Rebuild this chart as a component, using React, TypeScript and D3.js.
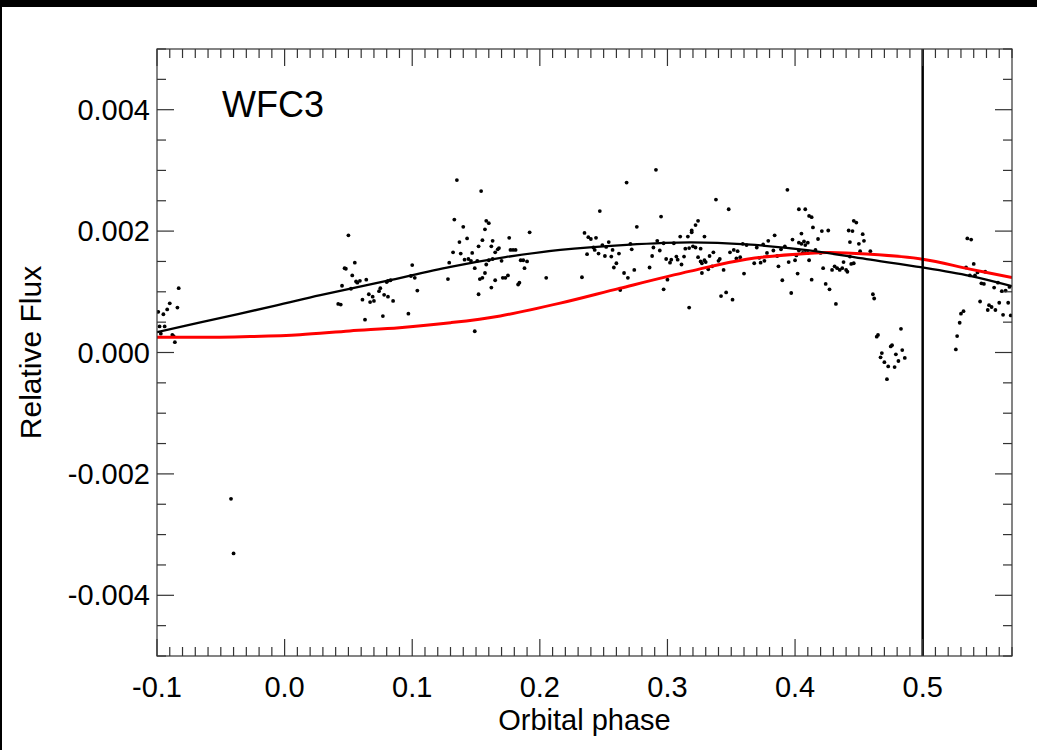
import React from "react";
import * as d3 from "d3";

// ---- Data ----
const xTickValues = [-0.1, 0.0, 0.1, 0.2, 0.3, 0.4, 0.5];
const xTickLabels = ["-0.1", "0.0", "0.1", "0.2", "0.3", "0.4", "0.5"];
const yTickValues = [-0.004, -0.002, 0.0, 0.002, 0.004];
const yTickLabels = ["-0.004", "-0.002", "0.000", "0.002", "0.004"];
const xDomain = [-0.1, 0.57];
const yDomain = [-0.005, 0.005];
const eclipsePhase = 0.5;
const panelLabel = "WFC3";

const obsPhase = [
  -0.099, -0.095, -0.092, -0.09, -0.083, -0.084, -0.098, -0.094, -0.097, -0.088, -0.087, -0.086,
  -0.042, -0.04,
  0.042, 0.044, 0.045, 0.047, 0.048, 0.05, 0.052, 0.053, 0.055, 0.056, 0.057, 0.059, 0.061, 0.063,
  0.064, 0.066, 0.067, 0.069, 0.07, 0.074, 0.075, 0.077, 0.078, 0.08, 0.081, 0.081, 0.083, 0.085,
  0.097, 0.099, 0.1, 0.102, 0.104, 0.128, 0.129,
  0.132, 0.133, 0.135, 0.137, 0.138, 0.14, 0.141, 0.143, 0.144, 0.146, 0.147, 0.149, 0.149, 0.151,
  0.152, 0.152, 0.153, 0.154, 0.155, 0.155, 0.157, 0.157, 0.158, 0.158, 0.16, 0.16, 0.162, 0.162,
  0.163, 0.163, 0.165, 0.165, 0.167, 0.168, 0.17, 0.171, 0.173, 0.175, 0.176, 0.177, 0.179, 0.181,
  0.183, 0.184, 0.185, 0.187, 0.188, 0.19, 0.192, 0.205,
  0.233, 0.235, 0.237, 0.238, 0.24, 0.242, 0.243, 0.244, 0.246, 0.247, 0.249, 0.251, 0.252, 0.254,
  0.256, 0.257, 0.258, 0.26, 0.262, 0.263, 0.266, 0.268, 0.269, 0.271, 0.272, 0.274, 0.276,
  0.286, 0.288, 0.289, 0.291, 0.292, 0.294, 0.295, 0.297, 0.297, 0.299, 0.3, 0.302, 0.303, 0.305,
  0.307, 0.308, 0.31, 0.311, 0.313, 0.314, 0.316, 0.317, 0.317,
  0.319, 0.319, 0.32, 0.322, 0.322, 0.324, 0.324, 0.326, 0.326, 0.327, 0.327, 0.329, 0.329, 0.33,
  0.332, 0.333, 0.335, 0.336, 0.338, 0.34, 0.341, 0.342, 0.344, 0.346, 0.348, 0.349, 0.351, 0.352,
  0.354, 0.355, 0.357, 0.359, 0.36, 0.362, 0.368, 0.37, 0.372, 0.373, 0.375, 0.376, 0.378, 0.379,
  0.383, 0.384, 0.386, 0.387, 0.389, 0.39, 0.392, 0.394, 0.395, 0.397, 0.398, 0.4, 0.401, 0.402,
  0.403, 0.403, 0.403, 0.408, 0.405, 0.405, 0.406, 0.408, 0.41, 0.407, 0.408, 0.41,
  0.411, 0.411, 0.413, 0.413, 0.414, 0.416, 0.418, 0.42, 0.421, 0.422, 0.424, 0.426, 0.427, 0.429,
  0.431, 0.432, 0.433, 0.435, 0.437, 0.438, 0.44, 0.441, 0.442, 0.443, 0.443, 0.444, 0.445, 0.446,
  0.446, 0.448, 0.45, 0.451, 0.453, 0.454, 0.459, 0.461, 0.462,
  0.464, 0.465, 0.467, 0.468, 0.47, 0.472, 0.473, 0.475, 0.476, 0.478, 0.479, 0.481, 0.483, 0.484, 0.486,
  0.526, 0.527, 0.529, 0.53, 0.532, 0.534, 0.535, 0.538, 0.537, 0.54, 0.541, 0.543, 0.545, 0.546,
  0.548, 0.549, 0.551, 0.552, 0.554, 0.556, 0.557, 0.559, 0.56, 0.562, 0.563, 0.565, 0.567, 0.568, 0.569,
];

const obsFlux = [
  0.00067, 0.00063, 0.00071, 0.00081, 0.00106, 0.00074, 0.00043, 0.00043, 0.00031, 0.00029, 0.00027, 0.00017,
  -0.00241, -0.00331,
  0.0008, 0.00079, 0.0011, 0.00139, 0.00138, 0.00193, 0.00105, 0.00127, 0.00148, 0.00117, 0.00115, 0.00118, 0.00087, 0.00054,
  0.0012, 0.00096, 0.00083, 0.00092, 0.00085, 0.00101, 0.00106, 0.0006, 0.00095, 0.00116, 0.00118, 0.00092, 0.00119, 0.00085,
  0.00064, 0.00126, 0.00144, 0.00123, 0.00102, 0.00121, 0.00148,
  0.00165, 0.00219, 0.00284, 0.00182, 0.00163, 0.00207, 0.00153, 0.00188, 0.00154, 0.00151, 0.00164, 0.00139, 0.00035, 0.00151,
  0.00175, 0.00096, 0.00121, 0.00266, 0.00123, 0.00185, 0.00203, 0.00131, 0.00217, 0.00145, 0.00213, 0.00152, 0.00175, 0.00107,
  0.00184, 0.00154, 0.00165, 0.00119, 0.0017, 0.00172, 0.00151, 0.00123, 0.00123, 0.00127, 0.00189, 0.00169, 0.00169, 0.00169,
  0.00112, 0.00115, 0.00152, 0.00152, 0.00139, 0.0015, 0.00198, 0.00123,
  0.00124, 0.00197, 0.00162, 0.0019, 0.00187, 0.00173, 0.00169, 0.00189, 0.00163, 0.00233, 0.00177, 0.00159, 0.00174, 0.00182,
  0.00158, 0.00169, 0.0014, 0.00147, 0.00163, 0.00103, 0.00131, 0.0028, 0.00123, 0.00179, 0.0017, 0.00136, 0.00207,
  0.0014, 0.00159, 0.00173, 0.00301, 0.00184, 0.00168, 0.00224, 0.00104, 0.0018, 0.00154, 0.0012, 0.00148, 0.00153, 0.0018,
  0.00158, 0.00153, 0.00191, 0.00145, 0.00158, 0.00171, 0.00191, 0.00074, 0.00172,
  0.00201, 0.00198, 0.00175, 0.00173, 0.0021, 0.00157, 0.00217, 0.0015, 0.00171, 0.00147, 0.00131, 0.00191, 0.00152, 0.00149,
  0.00137, 0.00159, 0.00142, 0.00165, 0.00252, 0.00151, 0.00154, 0.00093, 0.00136, 0.00099, 0.00236, 0.00165, 0.00087, 0.00169,
  0.00155, 0.00167, 0.00157, 0.00179, 0.0013, 0.00177, 0.00147, 0.00173, 0.00156, 0.00148, 0.00178, 0.00151, 0.00164, 0.00184,
  0.00168, 0.00193, 0.00159, 0.00142, 0.0017, 0.00119, 0.00175, 0.00268, 0.00149, 0.00098, 0.00186, 0.00152, 0.0016, 0.0013,
  0.00181, 0.00168, 0.00236, 0.00236, 0.00196, 0.00179, 0.00164, 0.00164, 0.00164, 0.00183, 0.00177, 0.00181,
  0.00152, 0.00225, 0.0012, 0.00223, 0.00206, 0.00169, 0.00187, 0.00164, 0.002, 0.00139, 0.00113, 0.00201, 0.00104, 0.00136,
  0.00142, 0.0008, 0.00139, 0.00136, 0.00139, 0.00149, 0.00136, 0.00133, 0.00201, 0.00158, 0.00182, 0.00146, 0.002, 0.00147,
  0.00217, 0.00214, 0.00179, 0.00167, 0.00195, 0.00184, 0.00167, 0.00096, 0.00089,
  0.00026, 0.00029, -0.00008, -0.00001, -0.00016, -0.00044, -0.00023, 0.0001, 0.00012, -0.00024, -0.00003, -0.00014, 0.00039, 0.00004, -0.00009,
  0.00005, 0.00027, 0.00049, 0.00064, 0.00068, 0.0014, 0.00188, 0.00186, 0.00127, 0.00146, 0.00127, 0.00132, 0.00084, 0.00114,
  0.00113, 0.00133, 0.0007, 0.00078, 0.00075, 0.00107, 0.0007, 0.00115, 0.00082, 0.00101, 0.00062, 0.00102, 0.00082, 0.00108, 0.00061,
];

// Best-fit phase curve (black) and model (red), sampled from the figure
const fitPhase = [-0.1, -0.066, -0.008, 0.028, 0.079, 0.13, 0.173, 0.216, 0.268, 0.318, 0.362, 0.411, 0.456, 0.5, 0.537, 0.57];
const fitFlux = [0.000335, 0.000495, 0.000768, 0.000945, 0.001176, 0.001411, 0.001571, 0.001692, 0.001774, 0.001814, 0.001781, 0.001682, 0.001538, 0.001401, 0.001263, 0.001093];

const modelPhase = [-0.1, -0.051, -0.027, 0.012, 0.051, 0.09, 0.13, 0.169, 0.216, 0.263, 0.318, 0.362, 0.412, 0.427, 0.456, 0.5, 0.537, 0.57];
const modelFlux = [0.000252, 0.000252, 0.000262, 0.000293, 0.000356, 0.000409, 0.000491, 0.000603, 0.000813, 0.00106, 0.00134, 0.001538, 0.001637, 0.001646, 0.001621, 0.001538, 0.001374, 0.001237];

const W = 1037;
const H = 750;
const margin = { left: 157, right: 1012, top: 49, bottom: 656 };
const FONT = "'Liberation Sans', Arial, Helvetica, sans-serif";

export default function App() {
  const x = d3.scaleLinear().domain(xDomain).range([margin.left, margin.right]);
  const y = d3.scaleLinear().domain(yDomain).range([margin.bottom, margin.top]);

  const xMinor = d3.range(-0.1, 0.5705, 0.01).map((v) => Math.round(v * 100) / 100);
  const yMinor = d3.range(-0.005, 0.00501, 0.0005).map((v) => Math.round(v * 10000) / 10000);
  const isMajorX = (v: number) => xTickValues.some((t) => Math.abs(t - v) < 1e-6);
  const isMajorY = (v: number) => yTickValues.some((t) => Math.abs(t - v) < 1e-7);

  const fitLine = d3
    .line<number>()
    .x((_, i) => x(fitPhase[i]))
    .y((d) => y(d))
    .curve(d3.curveCatmullRom.alpha(0.5));
  const modelLine = d3
    .line<number>()
    .x((_, i) => x(modelPhase[i]))
    .y((d) => y(d))
    .curve(d3.curveCatmullRom.alpha(0.5));

  const MAJ = 17;
  const MIN = 9;
  const axisColor = "#333";

  return (
    <svg
      width={W}
      height={H}
      style={{ position: "absolute", left: 0, top: 0, background: "#fff" }}
      fontFamily={FONT}
    >
      <rect x={0} y={0} width={W} height={H} fill="#fff" />
      <defs>
        <clipPath id="plotClip">
          <rect x={margin.left} y={margin.top} width={margin.right - margin.left} height={margin.bottom - margin.top} />
        </clipPath>
      </defs>

      {/* data points */}
      <g clipPath="url(#plotClip)">
        {obsPhase.map((p, i) => (
          <circle key={i} cx={x(p)} cy={y(obsFlux[i])} r={1.9} fill="#000" />
        ))}
        <path d={modelLine(modelFlux) || ""} fill="none" stroke="#ff0000" strokeWidth={3} />
        <path d={fitLine(fitFlux) || ""} fill="none" stroke="#000" strokeWidth={2.3} />
        <line x1={x(eclipsePhase)} x2={x(eclipsePhase)} y1={margin.top} y2={margin.bottom} stroke="#000" strokeWidth={2.5} />
      </g>

      {/* frame */}
      <rect
        x={margin.left}
        y={margin.top}
        width={margin.right - margin.left}
        height={margin.bottom - margin.top}
        fill="none"
        stroke={axisColor}
        strokeWidth={1.2}
      />

      {/* x ticks (bottom and top) */}
      {xMinor.map((v) => {
        const len = isMajorX(v) ? MAJ : MIN;
        const px = x(v);
        return (
          <g key={"xt" + v}>
            <line x1={px} x2={px} y1={margin.bottom} y2={margin.bottom - len} stroke={axisColor} strokeWidth={1.2} />
            <line x1={px} x2={px} y1={margin.top} y2={margin.top + len} stroke={axisColor} strokeWidth={1.2} />
          </g>
        );
      })}
      {/* y ticks (left and right) */}
      {yMinor.map((v) => {
        const len = isMajorY(v) ? MAJ : MIN;
        const py = y(v);
        return (
          <g key={"yt" + v}>
            <line x1={margin.left} x2={margin.left + len} y1={py} y2={py} stroke={axisColor} strokeWidth={1.2} />
            <line x1={margin.right} x2={margin.right - len} y1={py} y2={py} stroke={axisColor} strokeWidth={1.2} />
          </g>
        );
      })}

      {/* tick labels */}
      {xTickValues.map((v, i) => (
        <text key={"xl" + i} x={x(v)} y={697} textAnchor="middle" fontSize={29} fill="#000">
          {xTickLabels[i]}
        </text>
      ))}
      {yTickValues.map((v, i) => (
        <text key={"yl" + i} x={150} y={y(v) + 10} textAnchor="end" fontSize={29} fill="#000">
          {yTickLabels[i]}
        </text>
      ))}

      {/* axis titles */}
      <text x={(margin.left + margin.right) / 2} y={730} textAnchor="middle" fontSize={29} fill="#000">
        Orbital phase
      </text>
      <text
        transform={`translate(41, ${(margin.top + margin.bottom) / 2}) rotate(-90)`}
        textAnchor="middle"
        fontSize={30}
        fill="#000"
      >
        Relative Flux
      </text>

      <text x={222} y={117} fontSize={36} fill="#000">
        {panelLabel}
      </text>

      {/* outer black border (top and left) */}
      <rect x={0} y={0} width={W} height={7} fill="#000" />
      <rect x={0} y={0} width={2} height={H} fill="#000" />
    </svg>
  );
}
